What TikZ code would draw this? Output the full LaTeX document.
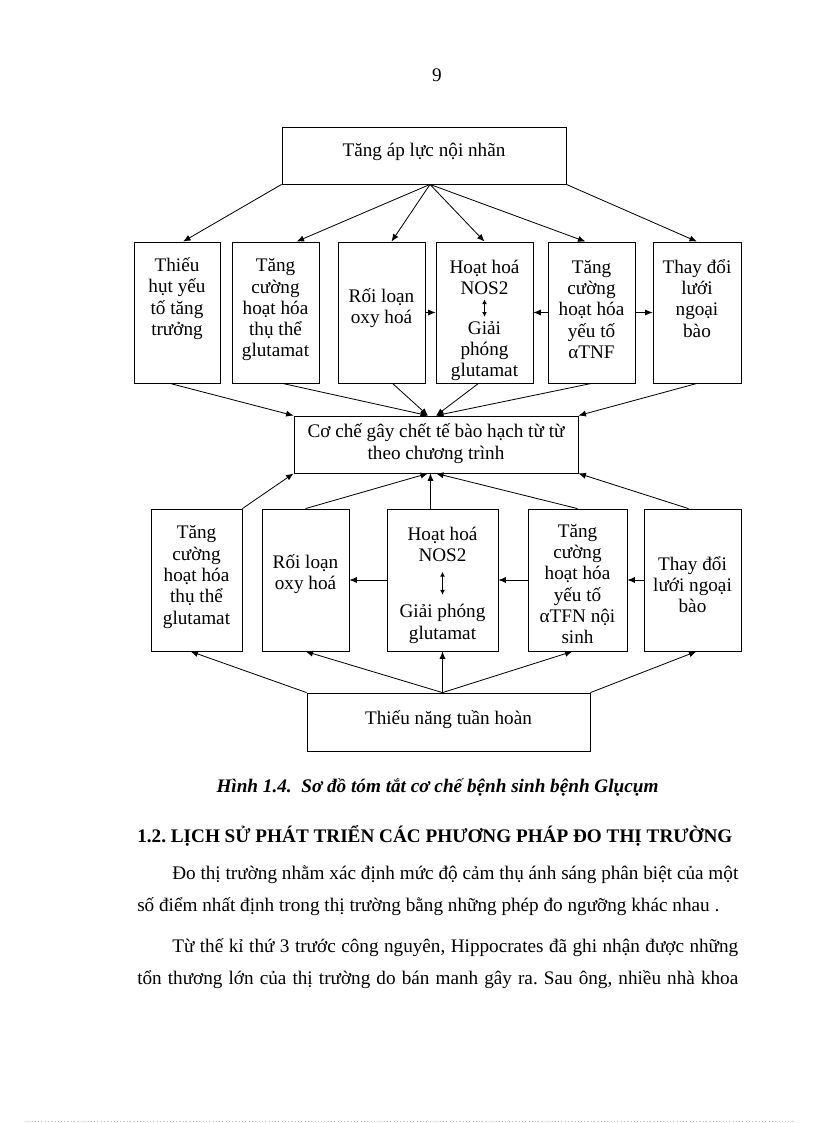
\documentclass[tikz,border=0pt]{standalone}
\usepackage{fontspec}
\setmainfont{Liberation Serif}
\usetikzlibrary{arrows.meta,fit,calc}
\frenchspacing

\tikzset{
  box/.style={draw, line width=0.6pt, inner sep=0pt},
  txt/.style={align=center, inner sep=0pt, font=\fontsize{14}{15.5}\selectfont},
  body/.style={inner sep=0pt, font=\fontsize{14}{15.5}\selectfont},
  arr/.style={-{Latex[length=5.5pt,width=4.5pt]}, line width=0.6pt},
  dbl/.style={{Latex[length=3.5pt,width=3.5pt]}-{Latex[length=3.5pt,width=3.5pt]}, line width=0.6pt},
}

\begin{document}
\begin{tikzpicture}[x=0.7293pt, y=-0.7293pt]
    \useasboundingbox (0,0) rectangle (816,1123);

    % Page number
    \node[body, anchor=base] (pg) at (437,81) {9};

    % Top box
    \node[box, fit={(282,127) (566,184)}] (top) {};
    \node[txt] (topt) at (424,152) {Tăng áp lực nội nhãn};

    % First row of boxes
    \node[box, fit={(134,242) (220,383)}] (h1) {};
    \node[box, fit={(232,242) (319,383)}] (h2) {};
    \node[box, fit={(338,242) (425,383)}] (h3) {};
    \node[box, fit={(436,242) (533,383)}] (h4) {};
    \node[box, fit={(548,242) (635,383)}] (h5) {};
    \node[box, fit={(653,242) (741,383)}] (h6) {};

    % -- texts of first row
    \node[txt] (h1t) at (177,298.5) {Thiếu\\hụt yếu\\tố tăng\\trưởng};
    \node[txt] (h2t) at (275.5,310) {Tăng\\cường\\hoạt hóa\\thụ thể\\glutamat};
    \node[txt] (h3t) at (381.5,308) {Rối loạn\\oxy hoá};
    \node[txt] (h4a) at (484.5,277.5) {Hoạt hoá\\NOS2};
    \node[txt] (h4b) at (484.5,351) {Giải\\phóng\\glutamat};
    \node[txt] (h5t) at (591.5,309.5) {Tăng\\cường\\hoạt hóa\\yếu tố\\αTNF};
    \node[txt] (h6t) at (697,298.5) {Thay đổi\\lưới\\ngoại\\bào};

    % Middle box
    \node[box, fit={(294,416) (578,473)}] (mid) {};
    \node[txt] (midt) at (436,443.5) {Cơ chế gây chết tế bào hạch từ từ\\theo chương trình};

    % Second row of boxes
    \node[box, fit={(151,509) (242,651)}] (b1) {};
    \node[box, fit={(262,509) (349,651)}] (b2) {};
    \node[box, fit={(387,509) (498,651)}] (b3) {};
    \node[box, fit={(528,509) (627,651)}] (b4) {};
    \node[box, fit={(644,509) (741,651)}] (b5) {};

    % -- texts of second row
    \node[txt] (b1t) at (196.5,577) {Tăng\\cường\\hoạt hóa\\thụ thể\\glutamat};
    \node[txt] (b2t) at (305.5,574) {Rối loạn\\oxy hoá};
    \node[txt] (b3a) at (442.5,544.5) {Hoạt hoá\\NOS2};
    \node[txt] (b3b) at (442.5,624) {Giải phóng\\glutamat};
    \node[txt] (b4t) at (577.5,584) {Tăng\\cường\\hoạt hóa\\yếu tố\\αTFN nội\\sinh};
    \node[txt] (b5t) at (692.5,584.5) {Thay đổi\\lưới ngoại\\bào};

    % Bottom box
    \node[box, fit={(307,693) (590,751)}] (bot) {};
    \node[txt] (bott) at (448.5,720) {Thiếu năng tuần hoàn};

    % Arrows from top box
    \coordinate (tf) at ($(top.south)+(6,0)$);
    \draw[arr] (top.south west) -- ($(h1.north)+(6,0)$);
    \draw[arr] (tf) -- ($(h2.north)+(21,0)$);
    \draw[arr] (tf) -- ($(h3.north)+(10,0)$);
    \draw[arr] (tf) -- (h4.north);
    \draw[arr] (tf) -- ($(h5.north)+(-6,0)$);
    \draw[arr] (top.south east) -- (h6.north);

    % -- side arrows of first row
    \draw[arr] (h3.east) -- (h4.west);
    \draw[arr] (h5.west) -- (h4.east);
    \draw[arr] (h5.east) -- (h6.west);
    \draw[dbl, shorten <=3pt, shorten >=3pt] (h4a.south) -- (h4b.north);

    % -- first row into middle box
    \coordinate (mt) at ($(mid.north)+(-8,0)$);
    \draw[arr] ($(h1.south)+(-7,0)$) -- (mid.north west);
    \draw[arr] ($(h2.south)+(7,0)$) -- (mt);
    \draw[arr] ($(h3.south)+(11,0)$) -- (mt);
    \draw[arr] ($(h4.south)+(-6,0)$) -- (mid.north);
    \draw[arr] (h5.south) -- (mid.north);
    \draw[arr] (h6.south) -- (mid.north east);

    % Arrows from bottom box
    \coordinate (bf) at (bot.north -| b3.south);
    \draw[arr] (bot.north west) -- ($(b1.south)+(-6,0)$);
    \draw[arr] (bf) -- (b2.south);
    \draw[arr] (bf) -- (b3.south);
    \draw[arr] (bf) -- ($(b4.south)+(-5,0)$);
    \draw[arr] (bot.north east) -- ($(b5.south)+(4,0)$);

    % -- side arrows of second row
    \draw[arr] (b3.west) -- (b2.east);
    \draw[arr] (b4.west) -- (b3.east);
    \draw[arr] (b5.west) -- (b4.east);
    \draw[dbl, shorten <=7pt, shorten >=7pt] (b3a.south) -- (b3b.north);

    % -- second row into middle box
    \coordinate (mb) at ($(mid.south)+(-8,0)$);
    \coordinate (b3up) at ($(b3.north)+(-12,0)$);
    \draw[arr] (b1.north east) -- (mid.south west);
    \draw[arr] (b2.north) -- (mb);
    \draw[arr] (b3up) -- (b3up |- mid.south);
    \draw[arr] (b4.north) -- (mid.south);
    \draw[arr] ($(b5.north)+(-4,0)$) -- (mid.south east);

    % Caption and text below
    \node[body, anchor=base, font=\fontsize{14}{15.5}\selectfont\bfseries\itshape] (cap) at (437.5,792)
        {Hình 1.4.\ \ Sơ đồ tóm tắt cơ chế bệnh sinh bệnh Glụcụm};
    \node[body, anchor=base west, font=\fontsize{14}{15.5}\selectfont\bfseries] (sec) at (137,842)
        {1.2. LỊCH SỬ PHÁT TRIỂN CÁC PHƯƠNG PHÁP ĐO THỊ TRƯỜNG};
    \node[body, anchor=base west] (p1) at (172,879)
        {\makebox[412.8pt][s]{Đo thị trường nhằm xác định mức độ cảm thụ ánh sáng phân biệt của một}};
    \node[body, anchor=base west] (p2) at (137,911)
        {số điểm nhất định trong thị trường bằng những phép đo ngưỡng khác nhau .};
    \node[body, anchor=base west] (p3) at (172,952)
        {\makebox[412.8pt][s]{Từ thế kỉ thứ 3 trước công nguyên, Hippocrates đã ghi nhận được những}};
    \node[body, anchor=base west] (p4) at (137,984)
        {\makebox[438.3pt][s]{tổn thương lớn của thị trường do bán manh gây ra. Sau ông, nhiều nhà khoa}};

    % Dotted rule at the foot
    \draw[gray!50, dotted] (25,1121) -- (792,1121);
\end{tikzpicture}
\end{document}
